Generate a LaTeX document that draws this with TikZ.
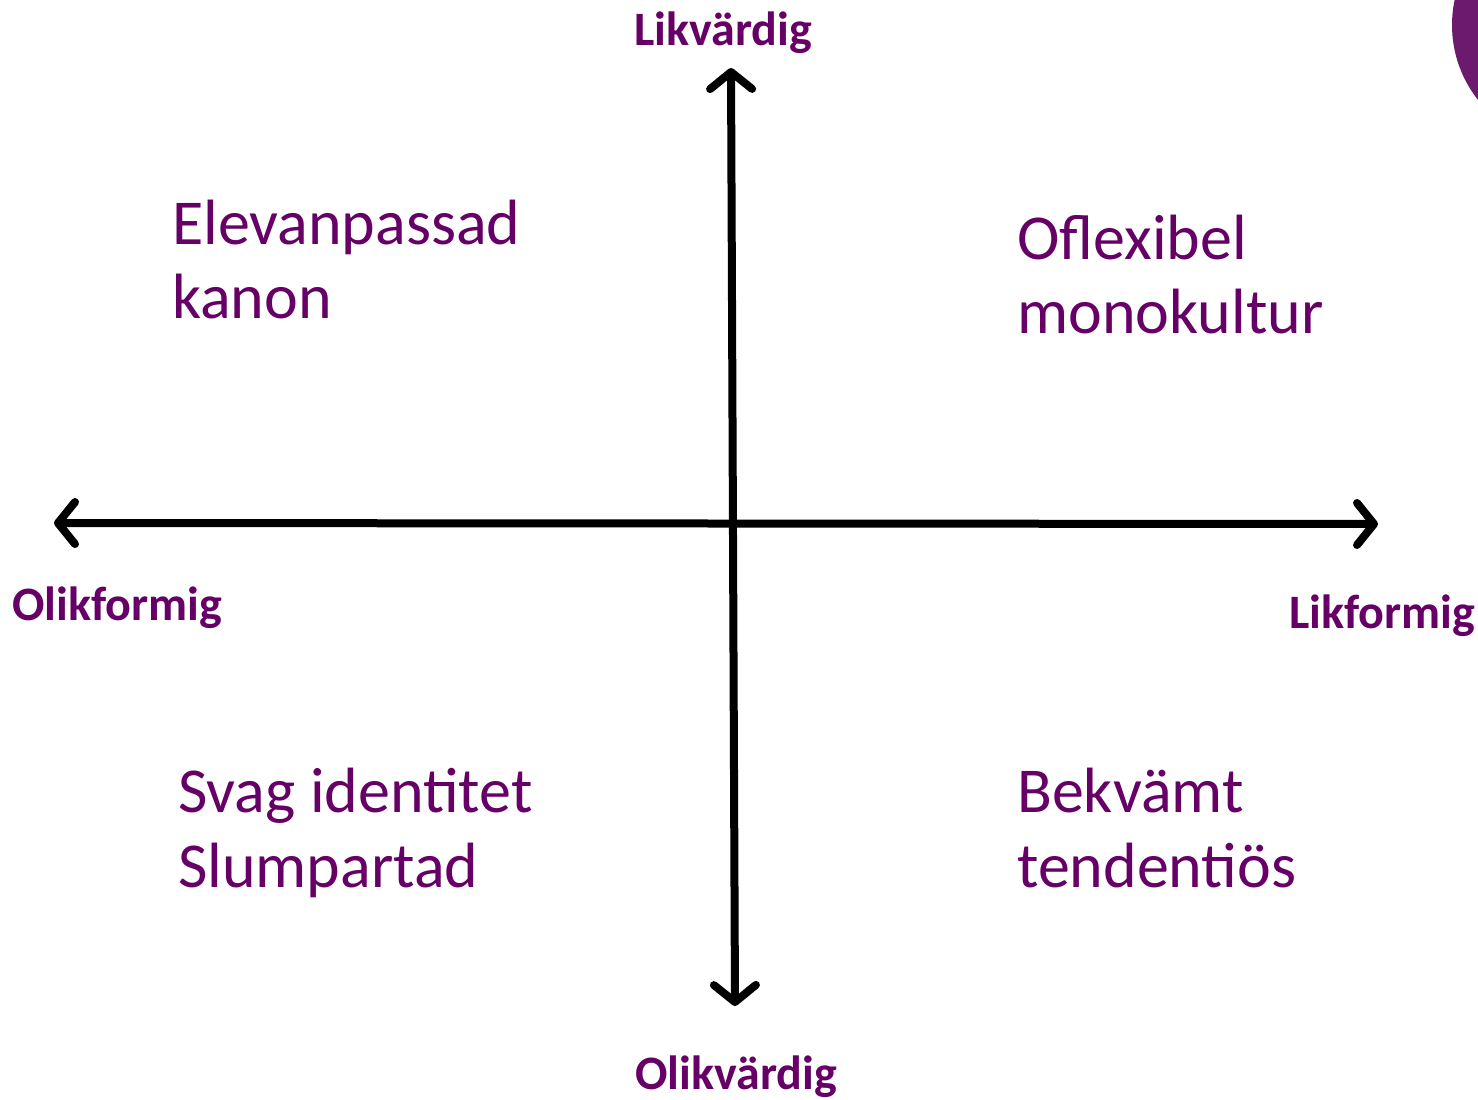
\documentclass[tikz,border=0pt]{standalone}
\usepackage{fontspec}
\setmainfont{Carlito}
\usetikzlibrary{arrows.meta}
\definecolor{ptxt}{HTML}{660066}
\definecolor{pcirc}{HTML}{6B1A6E}
\tikzset{
  axis/.style={line width=8pt, line cap=round,
    {Straight Barb[length=17pt,width=42pt,line width=8pt,round]}-{Straight Barb[length=17pt,width=42pt,line width=8pt,round]}},
  quad/.style={inner sep=0pt, anchor=base west, text=ptxt, font=\fontsize{64}{74}\selectfont},
  axlab/.style={inner sep=0pt, anchor=base west, text=ptxt, font=\fontsize{48}{56}\selectfont\bfseries},
}
\begin{document}
\begin{tikzpicture}[x=1pt,y=-1pt]
\useasboundingbox (0,0) rectangle (1478,1100);
\fill[pcirc] (1573,25) circle (121);
\coordinate (top) at (731,68);
\coordinate (bot) at (735,1006);
\coordinate (lft) at (54,523);
\coordinate (rgt) at (1378,524);
\draw[axis] (lft) -- (rgt);
\draw[axis] (bot) -- (top);
\node[axlab] (lv) at (634,45) {Likvärdig};
\node[axlab] (olf) at (12,620) {Olikformig};
\node[axlab] (lf) at (1289,628) {Likformig};
\node[axlab] (olv) at (635,1089) {Olikvärdig};
\node[quad] (q1a) at (172,244) {Elevanpassad};
\node[quad] (q1b) at (172,318) {kanon};
\node[quad] (q2a) at (1017,259) {Oflexibel};
\node[quad] (q2b) at (1017,333) {monokultur};
\node[quad] (q3a) at (178,812) {Svag identitet};
\node[quad] (q3b) at (178,887) {Slumpartad};
\node[quad] (q4a) at (1017,812) {Bekvämt};
\node[quad] (q4b) at (1017,887) {tendentiös};
\end{tikzpicture}
\end{document}
